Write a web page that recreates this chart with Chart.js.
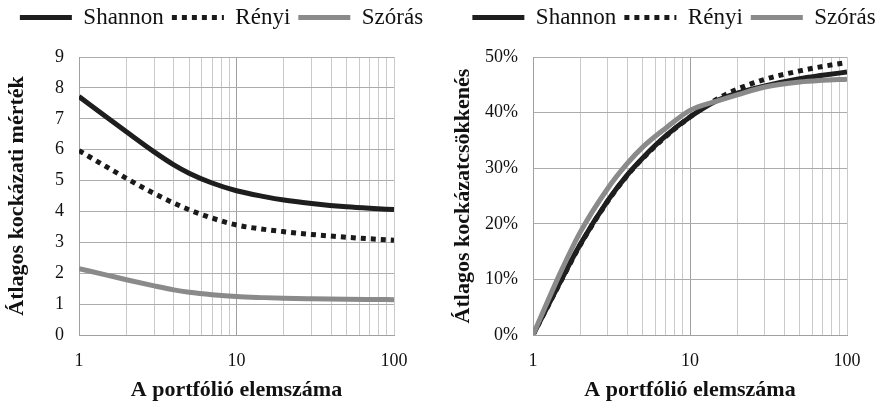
<!DOCTYPE html>
<html>
<head>
<meta charset="utf-8">
<script src="https://cdn.jsdelivr.net/npm/chart.js@4.4.0/dist/chart.umd.min.js"></script>
<style>
  html, body { margin: 0; padding: 0; background: #fff; overflow: hidden; }
  #wrap { position: relative; width: 875px; height: 405px; overflow: hidden; }
  canvas { position: absolute; top: 0; }
  #bal { left: 0; }
  #jobb { left: 437px; }
</style>
</head>
<body>
<div id="wrap">
  <canvas id="bal" width="443" height="405"></canvas>
  <canvas id="jobb" width="474" height="405"></canvas>
</div>
<script>
// A portfólió elemszáma (x)
const elemszam = [1, 1.5, 2, 3, 4, 5, 7, 10, 15, 20, 30, 50, 70, 100];

// Bal oldali ábra: átlagos kockázati mérték
const shannonMertek = [7.72, 7.05, 6.58, 5.93, 5.51, 5.24, 4.92, 4.67, 4.48, 4.37, 4.26, 4.15, 4.1, 4.06];
const renyiMertek   = [5.97, 5.44, 5.07, 4.58, 4.27, 4.055, 3.785, 3.56, 3.42, 3.345, 3.255, 3.165, 3.115, 3.07];
const szorasMertek  = [2.15, 1.94, 1.79, 1.59, 1.46, 1.385, 1.305, 1.245, 1.21, 1.19, 1.173, 1.157, 1.15, 1.144];

// Jobb oldali ábra: átlagos kockázatcsökkenés (%)
const shannonCsokk = [0, 9.7, 16.3, 24.2, 28.85, 31.85, 35.8, 39.2, 42.2, 43.5, 44.8, 46.1, 46.7, 47.3];
const renyiCsokk   = [0, 9.6, 16.2, 24.1, 28.75, 31.75, 35.7, 39.2, 42.5, 44.2, 46.0, 47.5, 48.3, 49.0];
const szorasCsokk  = [0, 11.3, 18.5, 26.4, 30.9, 33.8, 37.2, 40.4, 42.1, 43.2, 44.6, 45.5, 45.8, 46.0];

// tengely beosztások
const xRacs = [1, 2, 3, 4, 5, 6, 7, 8, 9, 10, 20, 30, 40, 50, 60, 70, 80, 90, 100];
const xFeliratok = [1, 10, 100];

const betu = "'Liberation Serif', 'Times New Roman', serif";

function pontok(ys) {
    return elemszam.map((x, i) => ({ x: x, y: ys[i] }));
}

function adatsorok(sh, re, sz) {
    return [
        { label: "Shannon", data: pontok(sh), borderColor: "#1e1e1e", borderWidth: 5, order: 2 },
        { label: "Rényi", data: pontok(re), borderColor: "#1a1a1a", borderWidth: 5, borderDash: [5, 5], order: 3 },
        { label: "Szórás", data: pontok(sz), borderColor: "#8a8a8a", borderWidth: 5, order: 1 }
    ];
}

// jelmagyarázat: a vonal szaggatása és vastagsága az adatsorból
function jelek(chart) {
    return Chart.defaults.plugins.legend.labels.generateLabels(chart).map(l => {
        const ds = chart.data.datasets[l.datasetIndex];
        l.lineDash = ds.borderDash || [];
        l.lineWidth = ds.borderWidth;
        l.strokeStyle = ds.borderColor;
        return l;
    });
}

function beallitas(o) {
    return {
        type: "line",
        data: { datasets: o.datasets },
        options: {
            responsive: false,
            animation: false,
            layout: { padding: { top: -2, left: 0, right: 0, bottom: 0 } },
            elements: {
                point: { radius: 0 },
                line: { cubicInterpolationMode: "monotone", borderCapStyle: "butt", fill: false }
            },
            plugins: {
                tooltip: { enabled: false },
                legend: {
                    position: "top",
                    labels: {
                        usePointStyle: true,
                        pointStyle: "line",
                        pointStyleWidth: 52,
                        padding: 8,
                        color: "#111",
                        font: { family: betu, size: 23 },
                        generateLabels: jelek,
                        sort: (a, b) => a.datasetIndex - b.datasetIndex
                    }
                },
                // üres térköz a jelmagyarázat alatt
                title: { display: true, text: "", weight: 500, padding: 0, font: { size: 18, lineHeight: 1 } }
            },
            scales: {
                x: {
                    type: "logarithmic",
                    min: 1,
                    max: 100,
                    afterBuildTicks: s => { s.ticks = xRacs.map(v => ({ value: v })); },
                    afterFit: s => { s.height = 70; },
                    ticks: {
                        autoSkip: false,
                        maxRotation: 0,
                        padding: 15,
                        color: "#111",
                        font: { family: betu, size: 18 },
                        callback: v => xFeliratok.includes(v) ? String(v) : ""
                    },
                    grid: {
                        drawTicks: false,
                        color: c => c.tick && c.tick.value === 10 ? "#a0a0a0" : "#cacaca",
                        lineWidth: 1
                    },
                    border: { color: "#a0a0a0" },
                    title: {
                        display: true,
                        text: "A portfólió elemszáma",
                        color: "#111",
                        padding: { top: 0, bottom: 1 },
                        font: { family: betu, size: 22, weight: "bold" }
                    }
                },
                y: {
                    position: "left",
                    min: 0,
                    max: o.ymax,
                    afterFit: s => { s.width = o.ywidth; },
                    ticks: {
                        stepSize: o.step,
                        padding: 15,
                        color: "#111",
                        font: { family: betu, size: 18 },
                        callback: o.tick
                    },
                    grid: { drawTicks: false, color: "#acacac" },
                    border: { color: "#a0a0a0" },
                    title: {
                        display: true,
                        text: o.ytitle,
                        color: "#111",
                        padding: { top: o.tpad, bottom: 0 },
                        font: { family: betu, size: 22, weight: "bold" }
                    }
                },
                // láthatatlan jobb oldali tengely a rajzterület szélességéhez
                jobb: {
                    position: "right",
                    min: 0,
                    max: 1,
                    afterFit: s => { s.width = o.rwidth; },
                    ticks: { display: false },
                    grid: { display: false, drawOnChartArea: false, drawTicks: false },
                    border: { display: false }
                }
            }
        }
    };
}

new Chart("bal", beallitas({
    datasets: adatsorok(shannonMertek, renyiMertek, szorasMertek),
    ymax: 9,
    step: 1,
    tick: v => String(v),
    ytitle: "Átlagos kockázati mérték",
    ywidth: 79,
    rwidth: 49,
    tpad: 4
}));

new Chart("jobb", beallitas({
    datasets: adatsorok(shannonCsokk, renyiCsokk, szorasCsokk),
    ymax: 50,
    step: 10,
    tick: v => v + "%",
    ytitle: "Átlagos kockázatcsökkenés",
    ywidth: 96,
    rwidth: 64,
    tpad: 13
}));
</script>
</body>
</html>
